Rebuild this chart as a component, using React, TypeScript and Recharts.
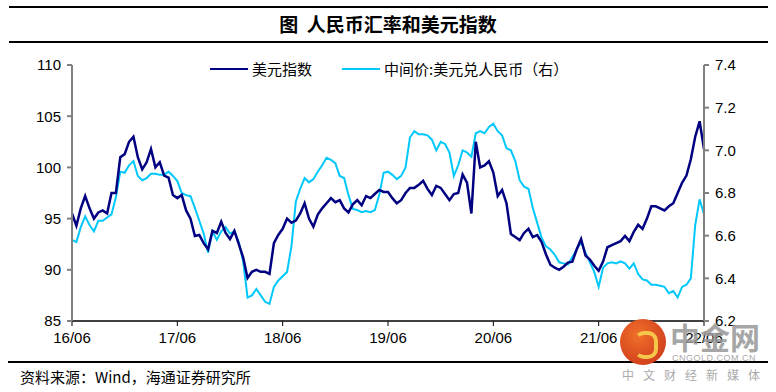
import React from 'react';
import { LineChart, Line, XAxis, YAxis } from 'recharts';

// half-month samples, 2016-06 .. 2022-06
const tickLabels = ['16/06', '17/06', '18/06', '19/06', '20/06', '21/06', '22/06'];

const usdIndex = [
  95.5, 94.3, 96.0, 97.2, 96.0, 95.0, 95.6, 95.8, 95.5, 97.5,
  97.5, 101.0, 101.3, 102.5, 103.0, 101.0, 99.8, 100.5, 101.8, 100.0,
  100.5, 99.2, 99.0, 97.3, 97.0, 97.3, 95.8, 95.0, 93.3, 93.4,
  92.6, 92.0, 93.8, 93.6, 94.7, 93.6, 93.0, 93.8, 92.5, 91.2,
  89.2, 89.8, 90.0, 89.8, 89.8, 89.6, 92.6, 93.4, 94.0, 95.0,
  94.6, 94.8, 95.5, 96.5, 95.0, 94.2, 95.4, 96.0, 96.5, 97.0,
  96.6, 96.8, 96.0, 95.6, 96.4, 96.8, 96.3, 97.2, 97.0, 97.4,
  97.8, 97.6, 97.6, 97.0, 96.5, 96.8, 97.5, 98.0, 98.0, 98.3,
  98.7, 97.9, 97.3, 98.2, 98.0, 97.4, 96.8, 97.4, 97.5, 99.3,
  98.5, 95.5, 102.5, 100.0, 100.2, 100.6, 99.5, 97.2, 97.8, 96.5,
  93.5, 93.2, 92.9, 93.6, 94.0, 93.2, 93.4, 92.7, 91.5, 90.5,
  90.2, 90.0, 90.3, 90.7, 90.8, 92.0, 93.0, 91.4, 91.0, 90.4,
  89.9, 90.8, 92.2, 92.4, 92.6, 92.8, 93.3, 92.8, 93.7, 94.4,
  94.0, 95.0, 96.2, 96.2, 96.0, 95.8, 96.2, 96.5, 97.5, 98.5,
  99.2, 100.8, 103.0, 104.5, 101.8,
];

const usdCny = [
  6.58, 6.57, 6.64, 6.69, 6.65, 6.62, 6.67, 6.67, 6.685, 6.70,
  6.78, 6.90, 6.895, 6.93, 6.95, 6.88, 6.86, 6.87, 6.89, 6.89,
  6.885, 6.885, 6.90, 6.88, 6.856, 6.80, 6.79, 6.785, 6.73, 6.67,
  6.61, 6.52, 6.62, 6.58, 6.62, 6.64, 6.61, 6.62, 6.57, 6.48,
  6.31, 6.32, 6.35, 6.32, 6.29, 6.28, 6.36, 6.39, 6.41, 6.43,
  6.55, 6.76, 6.82, 6.87, 6.85, 6.865, 6.90, 6.93, 6.965, 6.955,
  6.94, 6.88, 6.87, 6.79, 6.725, 6.72, 6.71, 6.715, 6.71, 6.72,
  6.79, 6.895, 6.90, 6.885, 6.865, 6.88, 6.92, 7.06, 7.09, 7.075,
  7.075, 7.07, 7.05, 7.00, 7.04, 7.03, 6.99, 6.88, 6.93, 7.00,
  6.99, 6.97, 7.08, 7.09, 7.08, 7.11, 7.125, 7.09, 7.07, 7.01,
  7.00, 6.95, 6.86, 6.83, 6.82, 6.73, 6.66, 6.59, 6.55, 6.535,
  6.51, 6.475, 6.47, 6.465, 6.50, 6.535, 6.57, 6.52, 6.475, 6.43,
  6.36, 6.45, 6.47, 6.475, 6.47, 6.48, 6.47, 6.445, 6.47, 6.42,
  6.395, 6.39, 6.37, 6.37, 6.365, 6.36, 6.33, 6.34, 6.31, 6.36,
  6.37, 6.40, 6.65, 6.77, 6.70,
];

const leftTicks = [85, 90, 95, 100, 105, 110];
const rightTicks = [6.2, 6.4, 6.6, 6.8, 7.0, 7.2, 7.4];

const dates: string[] = [];
for (let k = 0; k < usdIndex.length; k++) {
  const m = 5 + Math.floor(k / 2);
  const y = 2016 + Math.floor(m / 12);
  const mm = String((m % 12) + 1).padStart(2, '0');
  dates.push(`${y}-${mm}-${k % 2 ? '16' : '01'}`);
}
const xTicks = dates.filter((d) => d.endsWith('-06-01'));

const data = dates.map((date, i) => ({ date, usd: usdIndex[i], cny: usdCny[i] }));

const navy = '#000080';
const cyan = '#00C8FA';
const axisGray = '#808080';
const numFont = '"Liberation Sans", Arial, sans-serif';
const cjkFont = '"Noto Sans CJK SC", sans-serif';
const tickStyle = { fill: '#000', fontSize: 15, fontFamily: numFont };

const rule = (top: number, left: number, width: number) => (
  <div style={{ position: 'absolute', top, left, width, height: 2, background: '#000' }} />
);

export default function App() {
  return (
    <div style={{ position: 'fixed', top: 0, left: 0, width: 776, height: 392, background: '#fff', overflow: 'hidden' }}>
      {rule(6, 9, 759)}
      <div style={{ position: 'absolute', top: 10, left: 0, width: 776, textAlign: 'center', fontFamily: cjkFont, fontSize: 19, fontWeight: 700, color: '#000', lineHeight: '28px' }}>
        图&nbsp; 人民币汇率和美元指数
      </div>
      {rule(41, 9, 759)}

      <div style={{ position: 'absolute', top: 0, left: 0 }}>
        <LineChart width={776} height={392} data={data} margin={{ top: 65, right: 22, bottom: 41, left: 12 }}>
          <XAxis
            dataKey="date"
            ticks={xTicks}
            interval={0}
            tickFormatter={(d: string) => tickLabels[xTicks.indexOf(d)]}
            tick={tickStyle}
            tickSize={5}
            tickMargin={6}
            height={30}
            axisLine={{ stroke: '#000', strokeWidth: 1.5 }}
            tickLine={{ stroke: '#000' }}
          />
          <YAxis
            yAxisId="left"
            domain={[85, 110]}
            ticks={leftTicks}
            interval={0}
            tick={tickStyle}
            tickSize={5}
            tickMargin={6}
            width={60}
            axisLine={{ stroke: axisGray, strokeWidth: 2 }}
            tickLine={{ stroke: axisGray, strokeWidth: 2 }}
          />
          <YAxis
            yAxisId="right"
            orientation="right"
            domain={[6.2, 7.4]}
            ticks={rightTicks}
            interval={0}
            tickFormatter={(v: number) => v.toFixed(1)}
            tick={tickStyle}
            tickSize={5}
            tickMargin={6}
            width={50}
            axisLine={{ stroke: axisGray, strokeWidth: 2 }}
            tickLine={{ stroke: axisGray, strokeWidth: 2 }}
          />
          <Line yAxisId="right" dataKey="cny" stroke={cyan} strokeWidth={2} dot={false} type="linear" isAnimationActive={false} />
          <Line yAxisId="left" dataKey="usd" stroke={navy} strokeWidth={2.5} dot={false} type="linear" isAnimationActive={false} />
        </LineChart>
      </div>

      <div style={{ position: 'absolute', top: 58, left: 210, display: 'flex', alignItems: 'center', fontFamily: cjkFont, fontSize: 15, color: '#000', whiteSpace: 'nowrap' }}>
        <span style={{ display: 'inline-block', width: 38, height: 2, background: navy, marginRight: 4 }} />
        <span>美元指数</span>
        <span style={{ display: 'inline-block', width: 38, height: 2, background: cyan, marginLeft: 30, marginRight: 4 }} />
        <span>中间价:美元兑人民币（右）</span>
      </div>

      {rule(361, 8, 760)}
      <div style={{ position: 'absolute', top: 366, left: 20, fontFamily: cjkFont, fontSize: 15, color: '#000', lineHeight: '22px' }}>
        资料来源：Wind，海通证券研究所
      </div>

      {/* watermark */}
      <div style={{ position: 'absolute', left: 620, top: 319, width: 46, height: 46, borderRadius: 23, background: 'radial-gradient(circle at 40% 35%, #F0702A, #C83018)' }}>
        <div style={{ position: 'absolute', left: 14, top: 12, width: 16, height: 20, borderRadius: 10, border: '4px solid #F6C64A', borderLeftColor: 'transparent' }} />
      </div>
      <div style={{ position: 'absolute', left: 670, top: 318, fontFamily: cjkFont, fontSize: 30, fontWeight: 700, color: 'rgba(150,150,150,0.85)', lineHeight: '36px' }}>中金网</div>
      <div style={{ position: 'absolute', left: 672, top: 353, fontFamily: numFont, fontSize: 9, color: '#aaa', lineHeight: '10px', letterSpacing: 0.5 }}>CNGOLD.COM.CN</div>
      <div style={{ position: 'absolute', left: 622, top: 368, fontFamily: cjkFont, fontSize: 12, color: '#aaa', lineHeight: '14px', letterSpacing: 9 }}>中文财经新媒体</div>
    </div>
  );
}
